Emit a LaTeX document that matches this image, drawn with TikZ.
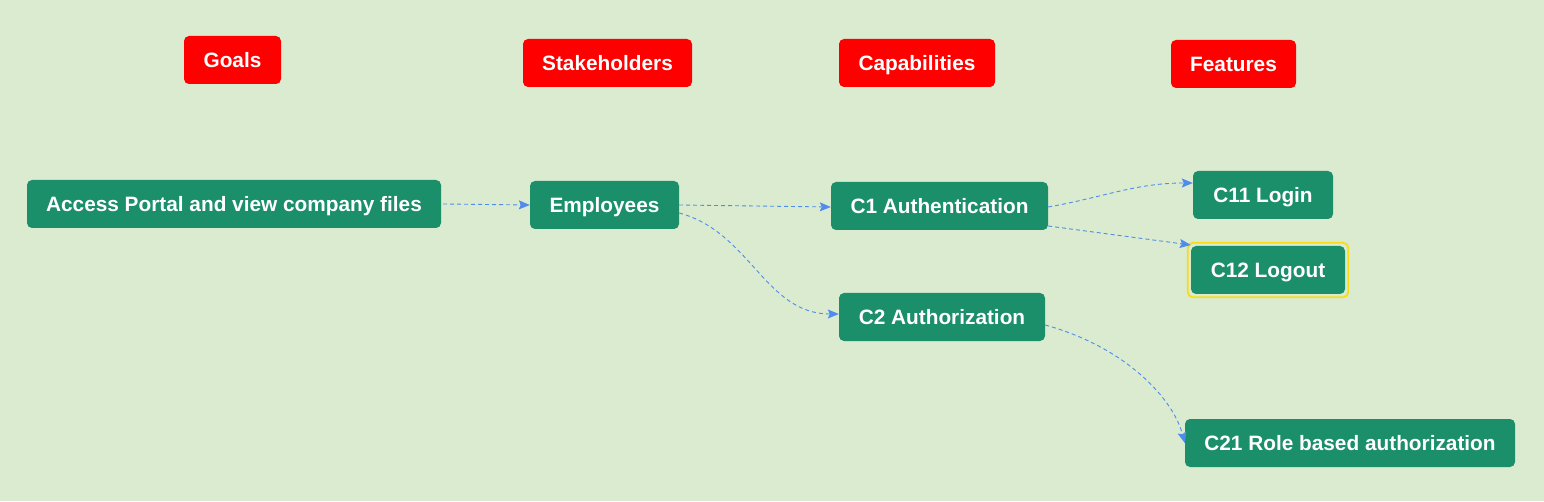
\documentclass[tikz,border=0pt]{standalone}
\usepackage{fontspec}
\setmainfont{Liberation Sans}
\usetikzlibrary{arrows.meta}
\definecolor{bg}{RGB}{218,235,208}
\definecolor{boxgreen}{RGB}{27,142,106}
\definecolor{linkblue}{RGB}{80,140,235}
\definecolor{hlyellow}{RGB}{250,220,20}
\begin{document}
\begin{tikzpicture}[x=1pt,y=1pt,
  box/.style={rounded corners=5pt, text=white, font=\bfseries\fontsize{20.8}{24}\selectfont,
    minimum height=48pt, inner xsep=0pt, inner ysep=0pt, text height=15pt, text depth=0pt, anchor=center},
  head/.style={box, fill=red},
  item/.style={box, fill=boxgreen},
  link/.style={draw=linkblue, dash pattern=on 4pt off 3pt, line width=0.9pt,
    -{Stealth[length=11pt,width=9pt,inset=2pt]}},
  hl/.style={draw=hlyellow, line width=1.8pt, rounded corners=5pt}]
\fill[bg] (0,0) rectangle (1544,501);
\useasboundingbox (0,0) rectangle (1544,501);
% headers
\node[head, minimum width=97pt] (goals) at (232.5,441) {Goals};
\node[head, minimum width=169pt] (stake) at (607.5,438) {Stakeholders};
\node[head, minimum width=156pt] (capab) at (917,438) {Capabilities};
\node[head, minimum width=125pt] (feat) at (1233.5,437) {Features};
% items
\node[item, minimum width=414pt] (acc) at (234,297) {Access Portal and view company files};
\node[item, minimum width=149pt] (emp) at (604.5,296) {Employees};
\node[item, minimum width=217pt] (c1) at (939.5,295) {C1 Authentication};
\node[item, minimum width=206pt] (c2) at (942,184) {C2 Authorization};
\node[item, minimum width=140pt] (c11) at (1263,306) {C11 Login};
\node[item, minimum width=154pt] (c12) at (1268,231) {C12 Logout};
\node[item, minimum width=330pt] (c21) at (1350,58) {C21 Role based authorization};
\draw[hl] ([shift={(-3pt,-3pt)}]c12.south west) rectangle ([shift={(3pt,3pt)}]c12.north east);
% connectors
\draw[link] ([xshift=2pt]acc.east) -- (emp.west);
\draw[link] (emp.east) -- ([yshift=-1pt]c1.west);
\draw[link] ([yshift=-8pt]emp.east) to[out=-15,in=180] ([yshift=3pt]c2.west);
\draw[link] ([yshift=-1pt]c1.east) to[out=10,in=180] ([yshift=12pt]c11.west);
\draw[link] ([yshift=-20pt]c1.east) -- ([yshift=25pt]c12.west);
\draw[link] ([yshift=-8pt]c2.east) .. controls +(80,-22) and +(-12,45) .. (c21.west);
\end{tikzpicture}
\end{document}
